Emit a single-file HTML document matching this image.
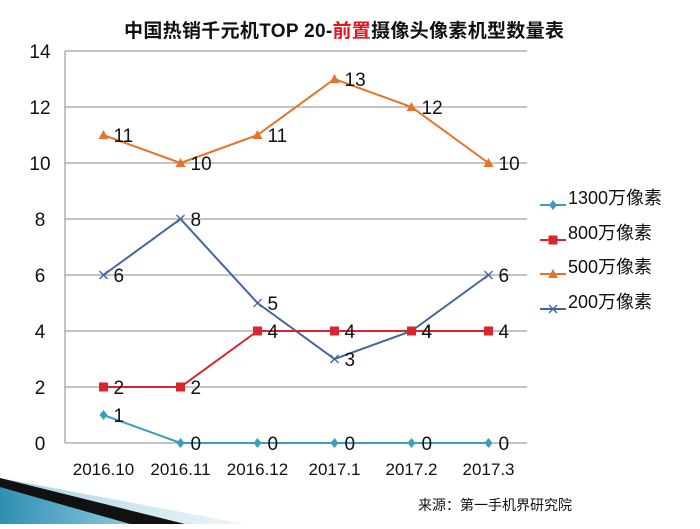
<!DOCTYPE html>
<html><head><meta charset="utf-8"><style>
body{margin:0;width:700px;height:524px;overflow:hidden;background:#fff;font-family:"Liberation Sans","Noto Sans CJK SC",sans-serif;}
svg text{font-family:"Liberation Sans","Noto Sans CJK SC",sans-serif;}
</style></head><body>
<svg width="700" height="524">
<defs><linearGradient id="g1" x1="0" y1="0" x2="1" y2="0"><stop offset="0" stop-color="#2f8fb3"/><stop offset="1" stop-color="#8cc7dc"/></linearGradient>
<linearGradient id="g2" x1="0" y1="0" x2="1" y2="0"><stop offset="0" stop-color="#a9d3e3"/><stop offset="1" stop-color="#eef6f9"/></linearGradient></defs>
<g>
<polygon points="0,478 245,524 0,524" fill="url(#g2)"/>
<polygon points="0,478 185,524 0,524" fill="#111"/>
<polygon points="0,487 130,524 0,524" fill="url(#g1)"/>
</g>
<text x="344" y="37" text-anchor="middle" font-size="19" font-weight="bold" fill="#111" textLength="440">中国热销千元机TOP  20-<tspan fill="#e8141c">前置</tspan>摄像头像素机型数量表</text>
<g id="grid"></g><g id="series"></g><g id="legend"></g>
<text x="418" y="510" font-size="14" fill="#111">来源：第一手机界研究院</text>
</svg>
<script>
const categories=["2016.10","2016.11","2016.12","2017.1","2017.2","2017.3"];
const yTicks=[0,2,4,6,8,10,12,14];
const s1300=[1,0,0,0,0,0];
const s800=[2,2,4,4,4,4];
const s500=[11,10,11,13,12,10];
const s200=[6,8,5,3,4,6];
const seriesNames=["1300万像素","800万像素","500万像素","200万像素"];
const NS="http://www.w3.org/2000/svg";
const x0=65,x1=527,yb=443,yt=51;
const xs=i=>x0+(i+0.5)*(x1-x0)/categories.length;
const ys=v=>yb-(v/14)*(yb-yt);
function mk(t,a,p){const e=document.createElementNS(NS,t);for(const k in a)e.setAttribute(k,a[k]);p.appendChild(e);return e;}
const grid=document.getElementById('grid');
yTicks.forEach(v=>{
 if(v>0){const l=mk('line',{x1:x0,x2:x1,y1:ys(v),y2:ys(v),stroke:'#888','stroke-width':1},grid);
 
 }
 const t=mk('text',{x:40,y:ys(v)+7,'text-anchor':'middle','font-size':19,fill:'#111'},grid);t.textContent=v;
 
 
});
const ax=mk('line',{x1:x0,x2:x0,y1:yt,y2:yb,stroke:'#888'},grid);


const bx=mk('line',{x1:x0,x2:x1,y1:yb,y2:yb,stroke:'#888'},grid);


categories.forEach((c,i)=>{const t=mk('text',{x:xs(i),y:475,'text-anchor':'middle','font-size':17,fill:'#111'},grid);t.textContent=c;
 
 });
function marker(type,x,y,col,p){
 if(type==='d')return mk('polygon',{points:`${x},${y-5} ${x+4},${y} ${x},${y+5} ${x-4},${y}`,fill:col},p);
 if(type==='s')return mk('rect',{x:x-4.5,y:y-4.5,width:9,height:9,fill:col},p);
 if(type==='t')return mk('polygon',{points:`${x},${y-5} ${x+5},${y+4} ${x-5},${y+4}`,fill:col},p);
 const g=mk('g',{},p);mk('line',{x1:x-4,y1:y-4,x2:x+4,y2:y+4,stroke:col,'stroke-width':1.3},g);mk('line',{x1:x-4,y1:y+4,x2:x+4,y2:y-4,stroke:col,'stroke-width':1.3},g);return g;
}
const defs=[[s1300,'#3a9fb8','d'],[s800,'#d9252f','s'],[s500,'#e6732a','t'],[s200,'#4465a0','x']];
const sg=document.getElementById('series'),lg=document.getElementById('legend');
const order=[2,3,1,0];
order.forEach(k=>{const [d,col,m]=defs[k];
 const g=mk('g',{},sg);
 
 
 const pl=mk('polyline',{points:d.map((v,i)=>xs(i)+','+ys(v)).join(' '),fill:'none',stroke:col,'stroke-width':2},g);
 
 
 d.forEach((v,i)=>{const mm=marker(m,xs(i),ys(v),col,g);
  
  
  const t=mk('text',{x:xs(i)+10,y:ys(v)+7,'font-size':19,fill:'#111'},g);t.textContent=v;
  
  });
});
const ly=[205,240,274,309];
defs.forEach(([d,col,m],k)=>{const g=mk('g',{},lg);
 
 
 mk('line',{x1:540,x2:566,y1:ly[k],y2:ly[k],stroke:col,'stroke-width':2},g);
 marker(m,553,ly[k],col,g);
 const t=mk('text',{x:568,y:ly[k]-1,'font-size':18,fill:'#111'},g);t.textContent=seriesNames[k];});
</script>
</body></html>
